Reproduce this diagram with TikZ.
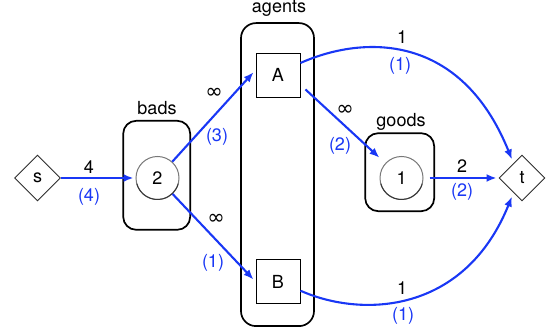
\documentclass[tikz,border=0pt]{standalone}
\usepackage{fontspec}
\setmainfont{TeX Gyre Heros}
\newfontfamily\dejavu{DejaVu Sans}
\usetikzlibrary{shapes.geometric,arrows.meta}
\definecolor{flowblue}{RGB}{25,55,245}
\definecolor{rimgray}{RGB}{120,120,120}
\definecolor{rimdark}{RGB}{55,55,55}
\definecolor{tipgray}{RGB}{45,45,45}
\newcommand{\infcap}{{\dejavu\fontsize{21}{24}\selectfont ∞}}
\begin{document}
\begin{tikzpicture}[x=1pt,y=1pt,
  font=\fontsize{18}{21}\selectfont,
  groupbox/.style={draw=black, line width=1.7pt, rounded corners=13pt, inner sep=0pt},
  agentbox/.style={draw=black, line width=0.9pt, minimum size=44pt, inner sep=0pt, fill=white},
  unitcircle/.style={circle, draw=rimgray, line width=1pt, minimum size=43pt, inner sep=0pt, fill=white},
  rimshade/.style={draw=rimdark, line width=1pt},
  terminal/.style={diamond, aspect=1, draw=tipgray, line width=0.9pt, minimum size=46pt, inner sep=0pt, fill=white},
  flow/.style={draw=flowblue, line width=2.1pt, -{Latex[length=10pt,width=8pt]}},
  caplbl/.style={text=black, inner sep=0pt},
  flowlbl/.style={text=flowblue, inner sep=0pt},
  grouplbl/.style={text=black, inner sep=0pt, anchor=base}]
\useasboundingbox (0,0) rectangle (549,334);

% group frames
\node[groupbox, minimum width=67pt, minimum height=109pt] (bads) at (156.7,158.7) {};
\node[groupbox, minimum width=73pt, minimum height=303pt, rounded corners=15pt] (agents) at (277.5,159.4) {};
\node[groupbox, minimum width=69pt, minimum height=78pt] (goods) at (399.7,161.8) {};
\node[grouplbl] (bads-title) at (157,219) {bads};
\node[grouplbl] (agents-title) at (279,321) {agents};
\node[grouplbl] (goods-title) at (401,207) {goods};

% source, sink and units
\node[terminal] (s) at (37.5,156) {s};
\node[terminal] (t) at (522,156) {t};
\node[unitcircle] (c2) at (157.5,156) {2};
\node[unitcircle] (c1) at (401.5,156) {1};
\node[agentbox] (A) at (278,259) {A};
\node[agentbox] (B) at (278,52.3) {B};

% darker lower rim on the unit circles
\foreach \u in {c1,c2}
  \draw[rimshade] ([shift={(195:21.5pt)}]\u.center) arc[start angle=195, end angle=345, radius=21.5pt];

% flow edges
\draw[flow, shorten >=2pt] (s.east) -- (c2.west);
\draw[flow, shorten >=3pt] (c2) -- ([yshift=5pt]A.west);
\draw[flow, shorten >=3pt] (c2) -- (B.west);
\draw[flow, shorten >=8pt] ([shift={(5pt,8pt)}]A.south east) -- (c1);
\draw[flow, shorten <=6pt, shorten >=2pt] (c1.east) -- (t.west);
\draw[flow, shorten >=4pt] ([yshift=12pt]A.east)
  to[out=24, in=112, out distance=70pt, in distance=140pt] (t.120);
\draw[flow, shorten >=4pt] ([yshift=-9pt]B.east)
  to[out=-24, in=-112, out distance=68pt, in distance=130pt] (t.240);

% capacities and flows
\node[caplbl] (cap-2A) at (214,241) {\infcap};
\node[caplbl] (cap-s) at (89,167) {4};
\node[flowlbl] (flo-s) at (89,137) {(4)};
\node[flowlbl] (flo-2A) at (217,197) {(3)};
\node[caplbl] (cap-2B) at (216,115) {\infcap};
\node[flowlbl] (flo-2B) at (213,71) {(1)};
\node[caplbl] (cap-A1) at (345,224) {\infcap};
\node[flowlbl] (flo-A1) at (340,188) {(2)};
\node[caplbl] (cap-1t) at (462,168) {2};
\node[flowlbl] (flo-1t) at (462,142) {(2)};
\node[caplbl] (cap-At) at (402,297) {1};
\node[flowlbl] (flo-At) at (400,268) {(1)};
\node[caplbl] (cap-Bt) at (402,46) {1};
\node[flowlbl] (flo-Bt) at (403,18) {(1)};
\end{tikzpicture}
\end{document}
